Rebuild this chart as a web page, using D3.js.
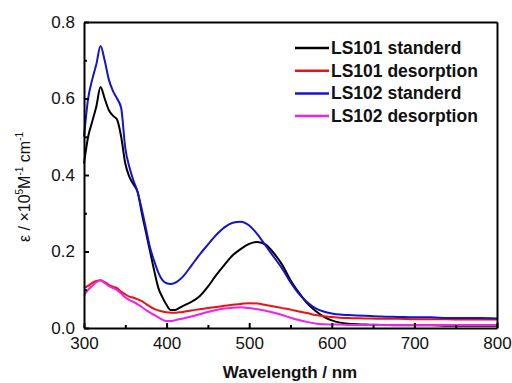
<!DOCTYPE html>
<html><head><meta charset="utf-8">
<script src="https://cdn.jsdelivr.net/npm/d3@7"></script>
<style>html,body{margin:0;padding:0;background:#fff}</style>
</head><body><svg id="c" width="512" height="383"></svg>
<script>
const wavelengths = [300,305,310,315,320,325,330,335,340,345,350,355,360,365,370,375,380,385,390,395,400,405,410,415,420,430,440,450,460,470,480,490,500,510,520,530,540,550,560,570,580,590,600,610,620,640,660,680,700,720,740,760,780,800];
const ls101Std = [0.43,0.50,0.54,0.58,0.63,0.60,0.57,0.555,0.545,0.50,0.43,0.395,0.375,0.355,0.30,0.25,0.20,0.15,0.105,0.08,0.06,0.047,0.047,0.052,0.058,0.068,0.083,0.108,0.138,0.165,0.19,0.207,0.22,0.225,0.218,0.195,0.165,0.125,0.093,0.065,0.045,0.03,0.02,0.014,0.011,0.009,0.008,0.007,0.007,0.007,0.006,0.006,0.006,0.006];
const ls101Des = [0.105,0.11,0.118,0.123,0.125,0.12,0.113,0.108,0.104,0.095,0.088,0.082,0.079,0.075,0.07,0.063,0.056,0.05,0.046,0.043,0.041,0.04,0.04,0.041,0.042,0.046,0.049,0.052,0.055,0.058,0.061,0.063,0.065,0.064,0.06,0.056,0.052,0.048,0.043,0.039,0.034,0.031,0.029,0.027,0.026,0.025,0.024,0.024,0.023,0.023,0.023,0.022,0.022,0.022];
const ls102Std = [0.50,0.60,0.65,0.69,0.737,0.70,0.65,0.62,0.60,0.575,0.47,0.42,0.385,0.355,0.31,0.26,0.21,0.175,0.145,0.125,0.117,0.115,0.118,0.125,0.135,0.163,0.192,0.218,0.243,0.263,0.275,0.278,0.268,0.245,0.215,0.185,0.155,0.12,0.09,0.068,0.052,0.043,0.038,0.035,0.034,0.032,0.03,0.029,0.028,0.028,0.026,0.026,0.026,0.025];
const ls102Des = [0.085,0.1,0.11,0.12,0.124,0.118,0.11,0.104,0.099,0.09,0.08,0.073,0.068,0.062,0.055,0.047,0.04,0.034,0.028,0.022,0.018,0.018,0.02,0.023,0.025,0.03,0.036,0.042,0.047,0.051,0.053,0.054,0.052,0.049,0.045,0.04,0.034,0.027,0.021,0.016,0.012,0.01,0.009,0.009,0.008,0.008,0.008,0.008,0.008,0.008,0.008,0.008,0.008,0.008];
const seriesNames = ["LS101 standerd","LS101 desorption","LS102 standerd","LS102 desorption"];
const seriesValues = [ls101Std, ls101Des, ls102Std, ls102Des];
const seriesColors = ["#000000","#ee1111","#1414cc","#ee22ee"];
const xTicks = [300,400,500,600,700,800];
const yTicks = [0.0,0.2,0.4,0.6,0.8];

const svg = d3.select("#c");
const L=84, R=497, T=22, B=328;
const x = d3.scaleLinear().domain([300,800]).range([L,R]);
const y = d3.scaleLinear().domain([0,0.8]).range([B,T]);
const font = "'Liberation Sans', Arial, sans-serif";

const plot = svg.append("g");
const line = d3.line().x((d,i)=>x(wavelengths[i])).y(d=>y(d)).curve(d3.curveMonotoneX);
seriesValues.forEach((vals,k)=>{
  plot.append("path").datum(vals).attr("d",line).attr("fill","none")
    .attr("stroke",seriesColors[k]).attr("stroke-width",2).attr("stroke-linejoin","round");
});

// axes (inward ticks)
const xMinor = d3.range(350,800,100);
const yMinor = d3.range(0.1,0.8,0.2);
const gx = svg.append("g").attr("transform",`translate(0,${B})`);
gx.call(d3.axisBottom(x).tickValues(xTicks).tickFormat(d3.format("d")).tickSize(-5).tickPadding(9));
const gxm = svg.append("g").attr("transform",`translate(0,${B})`);
gxm.call(d3.axisBottom(x).tickValues(xMinor).tickFormat("").tickSize(-3));
const gy = svg.append("g").attr("transform",`translate(${L},0)`);
gy.call(d3.axisLeft(y).tickValues(yTicks).tickFormat(d3.format(".1f")).tickSize(-5).tickPadding(9));
const gym = svg.append("g").attr("transform",`translate(${L},0)`);
gym.call(d3.axisLeft(y).tickValues(yMinor).tickFormat("").tickSize(-3));
[gx,gxm,gy,gym].forEach(g=>{
  g.select(".domain").remove();
  g.selectAll(".tick line").attr("stroke","#000").attr("stroke-width",2);
  g.selectAll("text").attr("font-family",font).attr("font-size",17).attr("fill","#111");
});
// frame
[[d3.axisTop(x),`translate(0,${T})`],[d3.axisRight(y),`translate(${R},0)`],
 [d3.axisBottom(x),`translate(0,${B})`],[d3.axisLeft(y),`translate(${L},0)`]].forEach(([ax,tr])=>{
  svg.append("g").attr("transform",tr).call(ax.tickValues([]).tickSizeOuter(0))
    .select(".domain").attr("stroke","#000").attr("stroke-width",2);
});

// axis titles
svg.append("text").attr("x",290).attr("y",378).attr("text-anchor","middle")
  .attr("font-family",font).attr("font-size",17).attr("font-weight","bold").attr("fill","#111")
  .text("Wavelength / nm");
const yt = svg.append("text").attr("transform","translate(30,187) rotate(-90)").attr("text-anchor","middle")
  .attr("font-family",font).attr("font-size",16).attr("fill","#111");
yt.append("tspan").text("ε / ×10");
yt.append("tspan").attr("font-size",10).attr("dy",-7).text("5");
yt.append("tspan").attr("dy",7).text("M");
yt.append("tspan").attr("font-size",10).attr("dy",-7).text("-1");
yt.append("tspan").attr("dy",7).text(" cm");
yt.append("tspan").attr("font-size",10).attr("dy",-7).text("-1");

// legend
const lg = svg.append("g");
seriesNames.forEach((n,k)=>{
  const yy = 48 + k*22.7;
  lg.append("line").attr("x1",295).attr("x2",329).attr("y1",yy).attr("y2",yy)
    .attr("stroke",seriesColors[k]).attr("stroke-width",2.5);
  lg.append("text").attr("x",331).attr("y",yy+6).attr("font-family",font)
    .attr("font-size",17.5).attr("font-weight","bold").attr("fill","#111").text(n);
});
</script></body></html>
